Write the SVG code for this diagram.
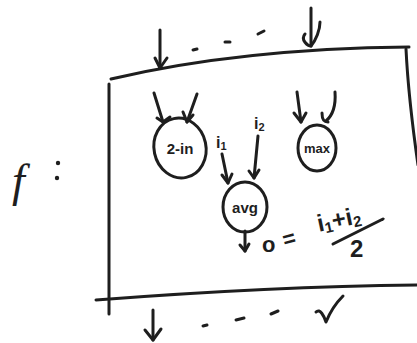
<svg xmlns="http://www.w3.org/2000/svg" width="417" height="343" viewBox="0 0 417 343">
  <style>
    .ink { fill: none; stroke: #1e1e1e; stroke-width: 3; stroke-linecap: round; stroke-linejoin: round; }
    .lbl { font-family: "Liberation Sans", "DejaVu Sans", sans-serif; fill: #1e1e1e; font-weight: bold; }
    .fn { font-family: "Liberation Serif", "DejaVu Serif", serif; font-style: italic; fill: #1e1e1e; }
  </style>
  <rect width="417" height="343" fill="#ffffff"/>

  <!-- function box outline -->
  <g id="frame">
    <path class="ink" d="M111 79 C 200 58, 300 48, 409 47"/>
    <path class="ink" d="M406 49 C 408 90, 413 130, 418 165"/>
    <path class="ink" d="M109 84 L 109 314"/>
    <path class="ink" d="M96 300 C 200 292, 320 286, 417 285"/>
  </g>

  <!-- label f : -->
  <g id="f-label">
    <text class="fn" x="12" y="196" font-size="46">f</text>
    <circle cx="58" cy="163" r="2.2" fill="#1e1e1e"/>
    <circle cx="57" cy="178" r="2.2" fill="#1e1e1e"/>
  </g>

  <!-- inputs and outputs of the box -->
  <g id="connectors">
    <!-- top inputs -->
    <path class="ink" d="M160 30 L 160 68"/>
    <path class="ink" d="M155 58 L 160 68 L 167 58"/>
    <path class="ink" d="M311 8 L 311 46"/>
    <path class="ink" d="M305 34 C 300 40, 308 46, 311 46 C 316 40, 320 30, 320 22"/>
    <path class="ink" d="M193 50 L 197 49"/>
    <path class="ink" d="M225 42 L 230 42"/>
    <path class="ink" d="M258 34 L 264 31"/>
    <!-- bottom outputs -->
    <path class="ink" d="M153 310 L 153 340"/>
    <path class="ink" d="M145 330 L 153 340 L 161 329"/>
    <path class="ink" d="M316 312 C 320 308, 324 316, 326 322 C 330 312, 336 303, 343 296"/>
    <path class="ink" d="M203 326 L 207 325"/>
    <path class="ink" d="M236 320 L 244 318"/>
    <path class="ink" d="M271 314 L 278 311"/>
    <!-- into 2-in -->
    <path class="ink" d="M154 93 L 163 122"/>
    <path class="ink" d="M157 118 L 163 122 L 170 117"/>
    <path class="ink" d="M197 94 L 187 122"/>
    <path class="ink" d="M183 112 L 187 122 L 193 115"/>
    <!-- into avg -->
    <path class="ink" d="M222 154 L 228 183"/>
    <path class="ink" d="M222 175 L 228 183 L 232 174"/>
    <path class="ink" d="M258 136 L 254 178"/>
    <path class="ink" d="M249 171 L 254 178 L 259 170"/>
    <!-- avg output -->
    <path class="ink" d="M245 231 L 245 251"/>
    <path class="ink" d="M240 245 L 245 251 L 249 244"/>
    <!-- into max -->
    <path class="ink" d="M297 92 L 301 122"/>
    <path class="ink" d="M294 113 L 301 122 L 306 113"/>
    <path class="ink" d="M335 92 C 336 106, 333 115, 326 121"/>
    <path class="ink" d="M322 113 C 322 120, 324 122, 328 122"/>
  </g>

  <g id="node-2in">
    <ellipse class="ink" cx="180" cy="148" rx="26" ry="30" transform="rotate(-12 180 148)"/>
    <text class="lbl" x="180" y="154" font-size="15" text-anchor="middle">2-in</text>
  </g>

  <g id="node-avg">
    <ellipse class="ink" cx="245" cy="207" rx="22" ry="25"/>
    <text class="lbl" x="245" y="213" font-size="15" text-anchor="middle">avg</text>
  </g>

  <g id="node-max">
    <ellipse class="ink" cx="317" cy="148" rx="19" ry="23"/>
    <text class="lbl" x="317" y="153" font-size="13" text-anchor="middle">max</text>
  </g>

  <!-- input names and output formula -->
  <g id="labels">
    <text class="lbl" x="216" y="148" font-size="16">i<tspan font-size="11" dy="2">1</tspan></text>
    <text class="lbl" x="254" y="129" font-size="16">i<tspan font-size="11" dy="2">2</tspan></text>
    <text class="lbl" x="262" y="252" font-size="22">o</text>
    <text class="lbl" x="283" y="246" font-size="22" transform="rotate(-15 290 240)">=</text>
    <text class="lbl" x="316" y="226" font-size="24" transform="rotate(-12 345 215)">i<tspan font-size="15" dy="3">1</tspan><tspan dy="-3">+i</tspan><tspan font-size="15" dy="3">2</tspan></text>
    <path class="ink" d="M333 244 L 383 219"/>
    <text class="lbl" x="350" y="257" font-size="24">2</text>
  </g>
</svg>
